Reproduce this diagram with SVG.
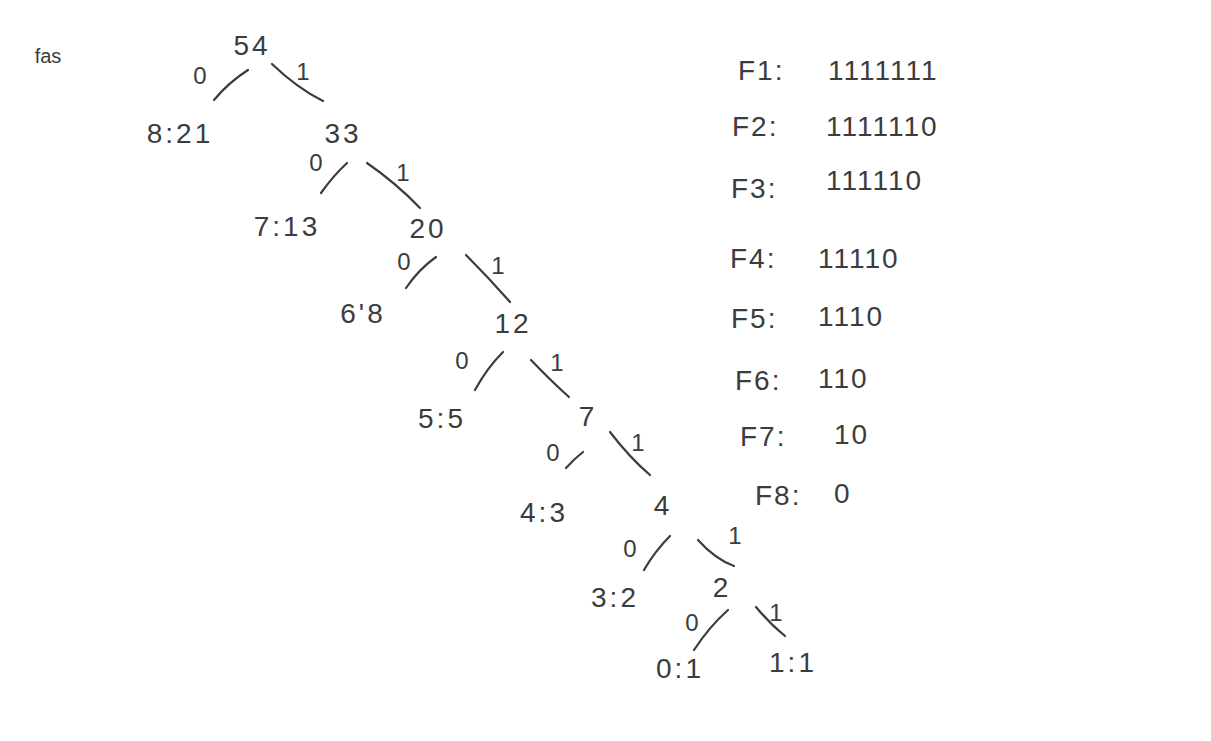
<svg xmlns="http://www.w3.org/2000/svg" width="1211" height="741" viewBox="0 0 1211 741">
<style>
.t{font-family:"Liberation Sans",Arial,sans-serif;fill:#3c3c3c;text-anchor:middle}
.n{font-size:28px;letter-spacing:3px}
.b{font-size:24px}
.c{font-size:28px;text-anchor:start;letter-spacing:2px}
.e{fill:none;stroke:#3c3c3c;stroke-width:2.2;stroke-linecap:round}
</style>
<rect width="1211" height="741" fill="#ffffff"/>
<text class="t" x="48" y="63" style="font-size:20px">fas</text>
<g id="connectors">
<path class="e" d="M214,100 Q229,82 248,70"/>
<path class="e" d="M272,64 Q297,88 323,101"/>
<path class="e" d="M321,193 Q333,176 347,163"/>
<path class="e" d="M367,163 Q396,183 420,208"/>
<path class="e" d="M406,288 Q419,269 436,257"/>
<path class="e" d="M466,255 Q489,278 510,302"/>
<path class="e" d="M475,390 Q487,368 503,352"/>
<path class="e" d="M531,360 Q551,381 569,397"/>
<path class="e" d="M566,468 Q574,459 583,452"/>
<path class="e" d="M610,432 Q630,458 650,475"/>
<path class="e" d="M644,570 Q655,551 670,536"/>
<path class="e" d="M698,540 Q715,559 734,566"/>
<path class="e" d="M694,650 Q709,627 728,610"/>
<path class="e" d="M756,607 Q770,624 785,636"/>
</g>
<g id="edge-labels">
<text class="t b" x="200" y="84">0</text>
<text class="t b" x="303" y="80">1</text>
<text class="t b" x="316" y="171">0</text>
<text class="t b" x="403" y="181">1</text>
<text class="t b" x="404" y="270">0</text>
<text class="t b" x="498" y="274">1</text>
<text class="t b" x="462" y="369">0</text>
<text class="t b" x="557" y="371">1</text>
<text class="t b" x="553" y="461">0</text>
<text class="t b" x="638" y="451">1</text>
<text class="t b" x="630" y="557">0</text>
<text class="t b" x="735" y="544">1</text>
<text class="t b" x="692" y="631">0</text>
<text class="t b" x="776" y="621">1</text>
</g>
<g id="n54"><text class="t n" x="252" y="55">54</text></g>
<g id="n8"><text class="t n" x="180" y="143">8:21</text></g>
<g id="n33"><text class="t n" x="343" y="143">33</text></g>
<g id="n7"><text class="t n" x="287" y="236">7:13</text></g>
<g id="n20"><text class="t n" x="428" y="238">20</text></g>
<g id="n6"><text class="t n" x="363" y="323">6'8</text></g>
<g id="n12"><text class="t n" x="513" y="333">12</text></g>
<g id="n5"><text class="t n" x="442" y="428">5:5</text></g>
<g id="n7b"><text class="t n" x="588" y="426">7</text></g>
<g id="n4a"><text class="t n" x="544" y="522">4:3</text></g>
<g id="n4"><text class="t n" x="663" y="515">4</text></g>
<g id="n3"><text class="t n" x="615" y="607">3:2</text></g>
<g id="n2"><text class="t n" x="722" y="597">2</text></g>
<g id="n0"><text class="t n" x="680" y="678">0:1</text></g>
<g id="n1"><text class="t n" x="793" y="672">1:1</text></g>
<g id="codes">
<text class="t c" x="738" y="80">F1:</text><text class="t c" x="828" y="80">1111111</text>
<text class="t c" x="732" y="136">F2:</text><text class="t c" x="826" y="136">1111110</text>
<text class="t c" x="731" y="198">F3:</text><text class="t c" x="826" y="190">111110</text>
<text class="t c" x="730" y="268">F4:</text><text class="t c" x="818" y="268">11110</text>
<text class="t c" x="731" y="328">F5:</text><text class="t c" x="818" y="326">1110</text>
<text class="t c" x="735" y="390">F6:</text><text class="t c" x="818" y="388">110</text>
<text class="t c" x="740" y="446">F7:</text><text class="t c" x="834" y="444">10</text>
<text class="t c" x="755" y="505">F8:</text><text class="t c" x="834" y="503">0</text>
</g>
</svg>
